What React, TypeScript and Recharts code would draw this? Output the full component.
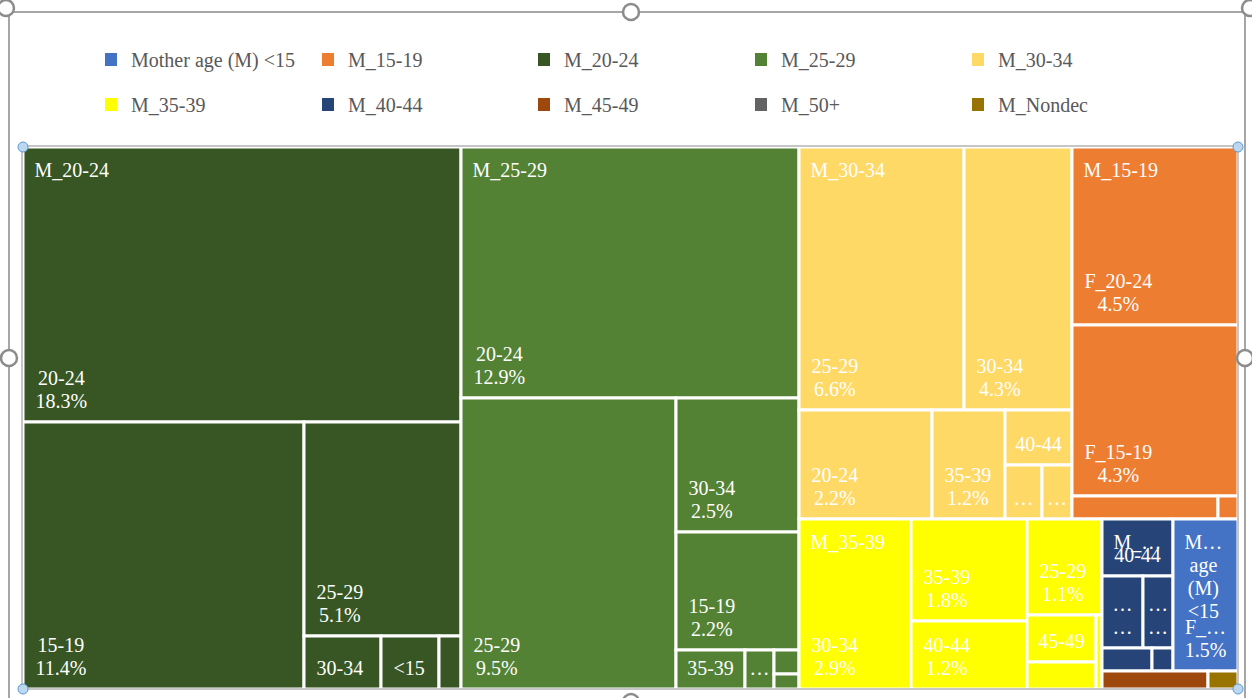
import React from 'react';
import { Treemap } from 'recharts';

// ---------------- data ----------------
const motherGroups = [
  'M_20-24',
  'M_25-29',
  'M_30-34',
  'M_15-19',
  'M_35-39',
  'M_40-44',
  'Mother age (M) <15',
  'M_45-49',
  'M_Nondec',
];

const fatherM20_24 = ['20-24', '15-19', '25-29', '30-34', '<15', '35-39'];
const shareM20_24 = [18.3, 11.4, 5.1, 0.62, 0.47, 0.17];

const fatherM25_29 = ['20-24', '25-29', '30-34', '15-19', '35-39', '40-44', '<15', '45-49'];
const shareM25_29 = [12.9, 9.5, 2.5, 2.2, 0.41, 0.17, 0.09, 0.065];

const fatherM30_34 = ['25-29', '30-34', '20-24', '35-39', '40-44', '15-19', '45-49'];
const shareM30_34 = [6.6, 4.3, 2.2, 1.2, 0.56, 0.3, 0.25];

const fatherM15_19 = ['F_20-24', 'F_15-19', 'F_25-29', 'F_30-34'];
const shareM15_19 = [4.5, 4.3, 0.51, 0.07];

const fatherM35_39 = ['30-34', '35-39', '40-44', '25-29', '45-49', '20-24', '50+'];
const shareM35_39 = [2.9, 1.8, 1.2, 1.1, 0.49, 0.29, 0.05];

const fatherM40_44 = ['40-44', '35-39', '45-49', '30-34', '50+'];
const shareM40_44 = [0.61, 0.45, 0.32, 0.175, 0.077];

const fatherMunder15 = ['F_15-19'];
const shareMunder15 = [1.5];

const fatherM45_49 = ['45-49'];
const shareM45_49 = [0.29];

const fatherMNondec = ['Nondec'];
const shareMNondec = [0.11];

const fatherNames = [
  fatherM20_24,
  fatherM25_29,
  fatherM30_34,
  fatherM15_19,
  fatherM35_39,
  fatherM40_44,
  fatherMunder15,
  fatherM45_49,
  fatherMNondec,
];
const fatherShares = [
  shareM20_24,
  shareM25_29,
  shareM30_34,
  shareM15_19,
  shareM35_39,
  shareM40_44,
  shareMunder15,
  shareM45_49,
  shareMNondec,
];

const legendNames = [
  'Mother age (M) <15',
  'M_15-19',
  'M_20-24',
  'M_25-29',
  'M_30-34',
  'M_35-39',
  'M_40-44',
  'M_45-49',
  'M_50+',
  'M_Nondec',
];

// ---------------- styles ----------------
const groupColors: Record<string, string> = {
  'Mother age (M) <15': '#4472C4',
  'M_15-19': '#ED7D31',
  'M_20-24': '#375623',
  'M_25-29': '#548235',
  'M_30-34': '#FFD966',
  'M_35-39': '#FFFF00',
  'M_40-44': '#264478',
  'M_45-49': '#9E480E',
  'M_50+': '#636363',
  'M_Nondec': '#997300',
};

const FONT = '"Liberation Serif", "Times New Roman", serif';
const LABEL_SIZE = 20;

const treeData = motherGroups.map((g, gi) => ({
  name: g,
  children: fatherNames[gi].map((f, fi) => ({
    name: f,
    group: g,
    size: fatherShares[gi][fi],
  })),
}));

// ---------------- text helpers ----------------
let measureCtx: CanvasRenderingContext2D | null = null;
function measure(text: string): number {
  if (!measureCtx && typeof document !== 'undefined') {
    const c = document.createElement('canvas');
    measureCtx = c.getContext('2d');
  }
  if (!measureCtx) return text.length * LABEL_SIZE * 0.5;
  measureCtx.font = `${LABEL_SIZE}px "Liberation Serif"`;
  return measureCtx.measureText(text).width;
}

function fit(text: string, avail: number, boxW: number): string | null {
  if (measure(text) <= avail) return text;
  for (let i = text.length - 1; i >= 1; i--) {
    const t = text.slice(0, i) + '…';
    if (measure(t) <= avail) return t;
  }
  return boxW >= 27 ? '…' : null;
}

function wrapWords(text: string, avail: number, boxW: number, maxLines: number): string[] {
  const words = text.split(' ');
  const lines: string[] = [];
  let cur = '';
  for (const w of words) {
    const cand = cur ? cur + ' ' + w : w;
    if (measure(cand) <= avail) {
      cur = cand;
    } else {
      if (cur) lines.push(cur);
      cur = '';
      if (measure(w) <= avail) cur = w;
      else {
        const t = fit(w, avail, boxW);
        if (t) lines.push(t);
      }
    }
  }
  if (cur) lines.push(cur);
  return lines.slice(0, Math.max(0, maxLines));
}

function TextBlock({
  lines,
  boxX,
  boxW,
  pad,
  centers,
}: {
  lines: string[];
  boxX: number;
  boxW: number;
  pad: number;
  centers: number[];
}) {
  const blockW = Math.max(...lines.map((l) => measure(l)));
  // left-aligned block; if it does not fit, center it in the box
  const cx = blockW + 2 * pad > boxW ? boxX + boxW / 2 : boxX + pad + blockW / 2;
  return (
    <>
      {lines.map((l, i) => (
        <text
          key={i}
          x={cx}
          y={centers[i]}
          textAnchor="middle"
          dominantBaseline="central"
          fill="#FFFFFF"
          stroke="none"
          style={{ fontFamily: FONT, fontSize: LABEL_SIZE }}
        >
          {l}
        </text>
      ))}
    </>
  );
}

const renderCell = (props: any) => {
  const { x, y, width, height, depth, index, name, group, root } = props;
  if (depth !== 2 || !(width > 0) || !(height > 0)) return <g />;
  const val = typeof props.size === 'number' ? props.size : props.value;
  const color = groupColors[group] || '#999';

  // leaf label (bottom-left)
  const maxLines = Math.floor((height - 12) / 26);
  const avail = width - 20;
  const leafLines: string[] = [];
  if (maxLines >= 1) {
    const n = fit(String(name), avail, width);
    if (n) {
      leafLines.push(n);
      if (maxLines >= 2) {
        const p = fit(`${Number(val).toFixed(1)}%`, avail, width);
        if (p) leafLines.push(p);
      }
    }
  }
  const lastCenter = y + height - 21.5;
  const leafCenters = leafLines.map((_, i) => lastCenter - (leafLines.length - 1 - i) * 23);

  // group header (top-left) drawn with the first child
  let headerLines: string[] = [];
  let gw = width;
  if (index === 0) {
    gw = root && typeof root.width === 'number' ? root.width : width;
    const gh = root && typeof root.height === 'number' ? root.height : height;
    const hMax = Math.floor((gh - 12) / 23);
    if (hMax >= 1) headerLines = wrapWords(String(group), gw - 20, gw, hMax);
  }
  const headerCenters = headerLines.map((_, i) => y + 22.5 + i * 23);

  return (
    <g>
      <rect x={x} y={y} width={width} height={height} fill={color} stroke="#FFFFFF" strokeWidth={3} />
      {leafLines.length > 0 && (
        <TextBlock lines={leafLines} boxX={x} boxW={width} pad={12.5} centers={leafCenters} />
      )}
      {headerLines.length > 0 && (
        <TextBlock lines={headerLines} boxX={x} boxW={gw} pad={11.5} centers={headerCenters} />
      )}
    </g>
  );
};

// ---------------- legend ----------------
const legendCols = [105, 322, 538, 755, 972];
const legendRows = [60, 105];

function Legend() {
  return (
    <>
      {legendNames.map((n, i) => {
        const col = i % 5;
        const row = Math.floor(i / 5);
        const left = legendCols[col];
        const cy = legendRows[row];
        return (
          <div key={n}>
            <div
              style={{
                position: 'absolute',
                left,
                top: cy - 7,
                width: 12,
                height: 13,
                background: groupColors[n],
              }}
            />
            <div
              style={{
                position: 'absolute',
                left: left + 26,
                top: cy - 12,
                height: 24,
                lineHeight: '24px',
                fontFamily: FONT,
                fontSize: 20,
                color: '#595959',
                whiteSpace: 'nowrap',
              }}
            >
              {n}
            </div>
          </div>
        );
      })}
    </>
  );
}

// ---------------- app ----------------
export default function App() {
  const W = 1252;
  const H = 698;
  const grayHandles = [
    [631, 12],
    [9, 358],
    [1245, 358],
    [631, 702],
    [6, 8],
    [1250, 8],
  ];
  const blueHandles = [
    [23, 147],
    [1238, 147],
    [23, 689],
    [1238, 689],
  ];
  return (
    <div
      style={{
        position: 'absolute',
        left: 0,
        top: 0,
        width: W,
        height: H,
        overflow: 'hidden',
        background: '#FFFFFF',
      }}
    >
      <svg width={W} height={H} style={{ position: 'absolute', left: 0, top: 0 }}>
        <rect x={9} y={12} width={1236} height={720} fill="#FFFFFF" stroke="#A6A6A6" strokeWidth={2} />
      </svg>
      <Legend />
      <div style={{ position: 'absolute', left: 23, top: 147 }}>
        <Treemap
          width={1215}
          height={542}
          data={treeData}
          dataKey="size"
          nameKey="name"
          aspectRatio={1.25}
          type="flat"
          isAnimationActive={false}
          content={renderCell as any}
        />
      </div>
      <svg width={W} height={H} style={{ position: 'absolute', left: 0, top: 0, pointerEvents: 'none' }}>
        <rect x={22} y={146} width={1216} height={543} fill="none" stroke="#B4B4B4" strokeWidth={1.5} />
        {grayHandles.map(([cx, cy], i) => (
          <circle key={`g${i}`} cx={cx} cy={cy} r={8} fill="#FFFFFF" stroke="#8C8C8C" strokeWidth={2.5} />
        ))}
        {blueHandles.map(([cx, cy], i) => (
          <circle key={`b${i}`} cx={cx} cy={cy} r={5} fill="#BDD7EE" stroke="#5B9BD5" strokeWidth={1} />
        ))}
      </svg>
    </div>
  );
}
